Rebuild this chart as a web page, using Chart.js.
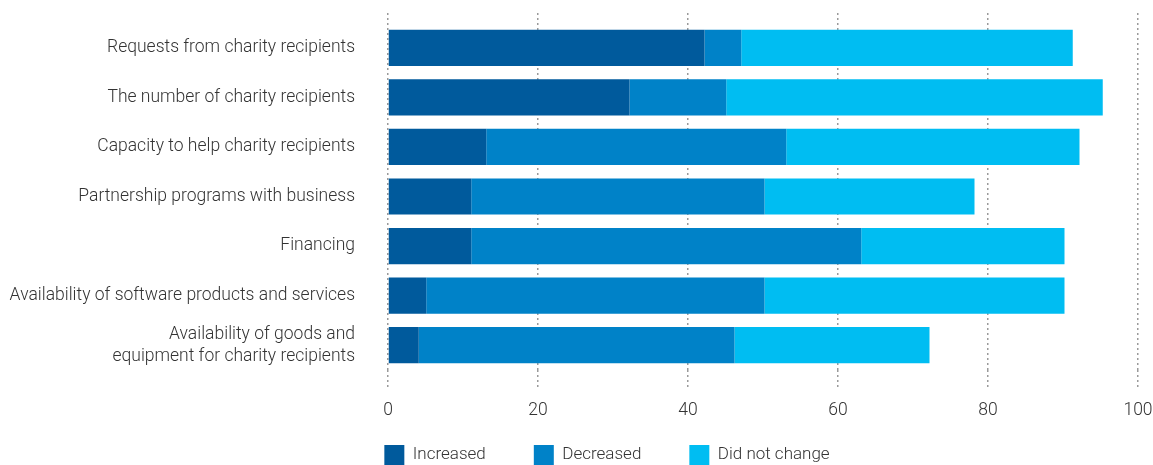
<!DOCTYPE html>
<html>
<head>
<meta charset="utf-8">
<script src="https://cdn.jsdelivr.net/npm/chart.js@4"></script>
<style>
  html, body { margin: 0; padding: 0; background: #fff; overflow: hidden; }
  #wrap { width: 1153px; height: 465px; }
</style>
</head>
<body>
<div id="wrap"><canvas id="chart"></canvas></div>
<script>
// Categories (top to bottom)
const categories = [
  "Requests from charity recipients",
  "The number of charity recipients",
  "Capacity to help charity recipients",
  "Partnership programs with business",
  "Financing",
  "Availability of software products and services",
  ["Availability of goods and", "equipment for charity recipients"]
];

// Series values, %
const increased = [42.2, 32.2, 13.1, 11.1, 11.1, 5.1, 4.1];
const decreased = [4.9, 12.9, 40.0, 39.1, 52.0, 45.1, 42.1];
const notChanged = [44.2, 50.2, 39.1, 28.0, 27.1, 40.0, 26.0];

const xTicks = [0, 20, 40, 60, 80, 100];

const gridLine = {
  color: '#9a9a9a',
  lineWidth: 1.5,
  drawTicks: true,
  tickBorderDash: [2, 3],
  tickColor: '#9a9a9a',
  tickWidth: 1.5
};

// no auto padding from tick labels, layout is set by hand
function noPad(s) {
  s.paddingLeft = 0;
  s.paddingRight = 0;
  s.paddingTop = 0;
  s.paddingBottom = 0;
}

// legend sits a bit right of centre and close under the axis
const legendPos = {
  id: 'legendPos',
  afterLayout(c) {
    c.legend.left += 76;
    c.legend.top = 397;
  }
};

const chart = new Chart(document.getElementById('chart'), {
  type: 'bar',
  data: {
    labels: categories,
    datasets: [
      { label: 'Increased', data: increased, backgroundColor: '#005a9c' },
      { label: 'Decreased', data: decreased, backgroundColor: '#0082c8' },
      { label: 'Did not change', data: notChanged, backgroundColor: '#00bdf2' }
    ]
  },
  plugins: [legendPos],
  options: {
    indexAxis: 'y',
    responsive: true,
    maintainAspectRatio: false,
    animation: false,
    barPercentage: 0.73,
    categoryPercentage: 1,
    layout: {
      padding: { left: 0, right: 15, top: 13, bottom: -45 }
    },
    scales: {
      x: {
        stacked: true,
        min: 0,
        max: 100,
        afterBuildTicks: s => { s.ticks = xTicks.map(v => ({ value: v })); },
        afterFit: noPad,
        grid: Object.assign({ tickLength: 19 }, gridLine),
        border: { display: false, dash: [2, 3] },
        ticks: {
          color: '#333',
          padding: 11,
          font: { family: 'Roboto', size: 17.5, weight: 300 }
        }
      },
      x2: {
        position: 'top',
        min: 0,
        max: 100,
        afterBuildTicks: s => { s.ticks = xTicks.map(v => ({ value: v })); },
        afterFit: s => { noPad(s); s.height = 10; },
        grid: Object.assign({ tickLength: 10, drawOnChartArea: false }, gridLine),
        border: { display: false },
        ticks: { display: false }
      },
      y: {
        stacked: true,
        afterFit: s => { noPad(s); s.width = 388; },
        grid: { display: false, drawTicks: false },
        border: { display: false },
        ticks: {
          autoSkip: false,
          color: '#333',
          padding: 33,
          font: { family: 'Roboto', size: 17.5, weight: 300, lineHeight: 1.26 }
        }
      }
    },
    plugins: {
      legend: {
        position: 'bottom',
        labels: {
          boxWidth: 20,
          boxHeight: 20,
          color: '#333',
          padding: 48,
          font: { family: 'Roboto', size: 17, weight: 300 }
        }
      },
      tooltip: { enabled: false }
    }
  }
});
</script>
</body>
</html>
